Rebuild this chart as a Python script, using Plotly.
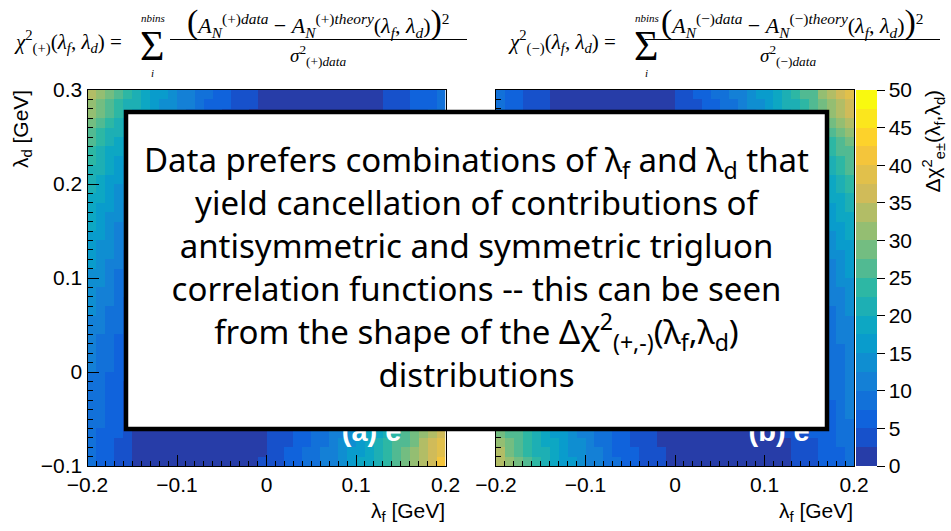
import plotly.graph_objects as go

# ---------------- data (Delta chi^2 per 0.01 x 0.01 bin; cells hidden behind the text box are not readable -> None)
lf_min, ld_min, bin_w, n_bins = -0.2, -0.1, 0.01, 40

# panel (a) e+ : rows from lambda_d = -0.1 upward, columns from lambda_f = -0.2
a_bottom = [
    [8.0, 6.2, 5.0, 4.1, 3.2, 2.4, 1.8, 1.3, 0.8, 0.5, 0.2, 0.1, 0.0, 0.1, 0.2, 0.5, 0.9, 1.4, 2.0, 2.7, 3.5, 4.5, 5.5, 6.7, 7.9, 9.3, 10.8, 12.4, 14.1, 15.9, 17.8, 19.9, 22.0, 24.2, 26.6, 29.0, 31.6, 34.3, 37.0, 40.5],
    [8.2, 6.4, 5.4, 4.4, 3.3, 2.4, 2.0, 1.4, 1.0, 0.6, 0.3, 0.1, 0.0, 0.0, 0.2, 0.4, 0.7, 1.2, 1.8, 2.4, 3.2, 4.1, 5.1, 6.2, 7.5, 8.8, 10.2, 11.8, 13.5, 15.2, 17.1, 19.1, 21.2, 23.5, 25.8, 28.2, 30.8, 33.4, 36.2, 39.1],
    [8.4, 6.8, 5.7, 4.7, 3.8, 2.45, 2.0, 1.6, 1.1, 0.7, 0.4, 0.1, 0.0, 0.0, 0.1, 0.3, 0.6, 1.0, 1.5, 2.2, 2.9, 3.8, 4.8, 5.8, 7.0, 8.3, 9.7, 11.2, 12.9, 14.6, 16.5, 18.4, 20.5, 22.7, 25.0, 27.4, 29.9, 32.5, 35.2, 38.0],
    [8.6, 7.2, 6.1, 5.0, 4.1, 2.45, 2.4, 1.8, 1.3, 0.8, 0.5, 0.2, 0.1, 0.0, 0.1, 0.2, 0.5, 0.9, 1.4, 2.0, 2.7, 3.5, 4.4, 5.5, 6.6, 7.9, 9.2, 10.7, 12.3, 14.0, 15.8, 17.7, 19.8, 21.9, 24.2, 26.5, 29.0, 31.6, 34.3, 37.1],
]
a_left_cols = [0, 1, 2, 3, 4]
a_left = [  # rows 4..36
    [8.8, 7.5, 6.4, 5.3, 4.3], [9.0, 7.7, 6.5, 5.4, 4.4], [9.2, 7.9, 6.7, 5.6, 4.6],
    [9.4, 8.1, 6.9, 5.7, 4.7], [9.6, 8.3, 7.0, 5.9, 4.9], [9.9, 8.5, 7.3, 6.1, 5.1],
    [10.2, 8.8, 7.5, 6.4, 5.3], [10.5, 9.1, 7.8, 6.6, 5.5], [10.9, 9.5, 8.1, 6.9, 5.8],
    [11.3, 9.8, 8.5, 7.2, 6.1], [11.7, 10.2, 8.8, 7.6, 6.4], [12.1, 10.6, 9.2, 7.9, 6.7],
    [12.6, 11.1, 9.6, 8.3, 7.0], [13.1, 11.5, 10.1, 8.7, 7.4], [13.6, 12.0, 10.5, 9.1, 7.8],
    [14.1, 12.5, 10.9, 9.5, 8.2], [14.6, 12.9, 11.4, 9.9, 8.6], [15.2, 13.5, 11.9, 10.4, 9.0],
    [15.8, 14.1, 12.5, 10.9, 9.5], [16.4, 14.6, 13.0, 11.4, 10.0], [17.0, 15.2, 13.5, 11.9, 10.4],
    [17.6, 15.8, 14.0, 12.4, 10.9], [18.2, 16.3, 14.6, 12.9, 11.4], [18.9, 17.0, 15.2, 13.5, 11.9],
    [19.6, 17.7, 15.8, 14.1, 12.5], [20.4, 18.4, 16.6, 14.8, 13.1], [21.2, 19.2, 17.3, 15.5, 13.8],
    [22.0, 20.0, 18.0, 16.2, 14.4], [23.0, 20.9, 18.9, 17.0, 15.2], [24.0, 21.9, 19.8, 17.9, 16.0],
    [25.2, 23.0, 20.9, 18.9, 17.0], [26.5, 24.2, 22.1, 20.0, 18.1], [28.0, 25.7, 23.5, 21.3, 19.3],
]
a_top = [  # rows 37..39
    [30.8, 28.3, 26.0, 23.8, 21.6, 19.6, 17.7, 15.8, 14.1, 12.5, 11.0, 9.5, 8.2, 7.0, 5.8, 4.8, 3.9, 3.0, 2.3, 1.7, 1.2, 0.7, 0.4, 0.2, 0.0, 0.0, 0.1, 0.2, 0.5, 0.8, 1.2, 1.7, 2.3, 3.0, 3.8, 4.7, 5.6, 6.7, 7.8, 9.1],
    [32.0, 29.2, 26.8, 24.5, 22.4, 20.3, 18.3, 16.5, 14.7, 13.0, 11.5, 10.0, 8.6, 7.4, 6.2, 5.2, 4.2, 3.3, 2.6, 1.9, 1.3, 0.9, 0.5, 0.2, 0.1, 0.0, 0.0, 0.2, 0.4, 0.7, 1.1, 1.5, 2.1, 2.8, 3.5, 4.4, 5.3, 6.3, 7.4, 8.6],
    [33.5, 30.0, 27.6, 25.3, 23.1, 21.0, 19.0, 17.1, 15.3, 13.6, 12.0, 10.5, 9.1, 7.8, 6.6, 5.5, 4.5, 3.6, 2.8, 2.1, 1.5, 1.0, 0.6, 0.3, 0.1, 0.0, 0.0, 0.1, 0.3, 0.6, 0.9, 1.4, 1.9, 2.6, 3.3, 4.1, 5.0, 6.0, 7.0, 8.2],
]

# panel (b) e-
b_bottom = [
    [34.0, 30.0, 27.6, 25.3, 23.1, 21.0, 19.0, 17.1, 15.3, 13.6, 12.0, 10.5, 9.1, 7.8, 6.6, 5.5, 4.5, 3.6, 2.8, 2.1, 1.5, 1.0, 0.6, 0.3, 0.1, 0.0, 0.0, 0.1, 0.3, 0.6, 0.9, 1.4, 1.9, 2.6, 3.3, 4.1, 5.0, 6.0, 7.0, 8.2],
    [32.5, 29.2, 26.8, 24.5, 22.4, 20.3, 18.3, 16.5, 14.7, 13.0, 11.5, 10.0, 8.6, 7.4, 6.2, 5.2, 4.2, 3.3, 2.6, 1.9, 1.3, 0.9, 0.5, 0.2, 0.1, 0.0, 0.0, 0.2, 0.4, 0.7, 1.1, 1.5, 2.1, 2.8, 3.5, 4.4, 5.3, 6.3, 7.4, 8.6],
    [30.8, 28.3, 26.0, 23.8, 21.6, 19.6, 17.7, 15.8, 14.1, 12.5, 11.0, 9.5, 8.2, 7.0, 5.8, 4.8, 3.9, 3.0, 2.3, 1.7, 1.2, 0.7, 0.4, 0.2, 0.0, 0.0, 0.1, 0.2, 0.5, 0.8, 1.2, 1.7, 2.3, 3.0, 3.8, 4.7, 5.6, 6.7, 7.8, 9.1],
    [29.9, 27.5, 25.2, 23.0, 20.9, 18.9, 17.0, 15.2, 13.5, 12.0, 10.5, 9.1, 7.8, 6.6, 5.5, 4.5, 3.6, 2.8, 2.1, 1.5, 1.0, 0.6, 0.3, 0.1, 0.0, 0.0, 0.1, 0.3, 0.6, 0.9, 1.4, 1.9, 2.6, 3.3, 4.1, 5.0, 6.0, 7.1, 8.3, 9.6],
]
b_right_cols = [37, 38, 39]
b_right = [  # rows 4..36
    [7.1, 8.4, 9.8], [7.3, 8.6, 10.0], [7.4, 8.8, 10.2], [7.6, 8.9, 10.4], [7.8, 9.1, 10.6],
    [7.9, 9.3, 10.8], [8.1, 9.5, 11.0], [8.3, 9.7, 11.2], [8.5, 9.9, 11.4], [8.7, 10.1, 11.7],
    [9.0, 10.4, 12.0], [9.3, 10.8, 12.4], [9.7, 11.2, 12.8], [10.0, 11.6, 13.2], [10.5, 12.1, 13.8],
    [11.1, 12.7, 14.4], [11.7, 13.3, 15.1], [12.3, 14.0, 15.8], [12.9, 14.7, 16.5], [13.5, 15.3, 17.2],
    [14.2, 16.1, 18.0], [15.0, 16.8, 18.8], [15.7, 17.6, 19.6], [16.6, 18.5, 20.6], [17.5, 19.5, 21.6],
    [18.5, 20.5, 22.7], [19.4, 21.6, 23.8], [20.5, 22.7, 25.0], [21.6, 23.9, 26.2], [22.8, 25.1, 27.5],
    [24.2, 26.5, 29.0], [26.0, 28.4, 31.0], [28.3, 30.8, 33.5],
]
b_top = [  # rows 37..39
    [8.4, 6.8, 5.7, 4.7, 3.8, 3.0, 2.2, 1.6, 1.1, 0.7, 0.4, 0.1, 0.0, 0.0, 0.1, 0.3, 0.6, 1.0, 1.5, 2.1, 2.8, 3.6, 4.5, 5.5, 6.6, 7.9, 9.2, 10.6, 12.2, 13.8, 15.6, 17.4, 19.4, 21.4, 23.6, 25.9, 28.2, 30.7, 33.3, 36.0],
    [8.2, 6.4, 5.4, 4.4, 3.5, 2.7, 2.0, 1.4, 0.9, 0.6, 0.3, 0.1, 0.0, 0.0, 0.1, 0.4, 0.7, 1.1, 1.7, 2.3, 3.0, 3.9, 4.8, 5.9, 7.1, 8.3, 9.7, 11.2, 12.7, 14.4, 16.2, 18.1, 20.1, 22.2, 24.4, 26.7, 29.1, 31.6, 34.2, 36.9],
    [8.0, 6.2, 5.0, 4.1, 3.2, 2.6, 1.8, 1.3, 0.8, 0.5, 0.2, 0.1, 0.0, 0.1, 0.2, 0.5, 0.8, 1.3, 1.9, 2.4, 3.3, 4.2, 5.2, 6.3, 7.5, 8.8, 10.2, 11.7, 13.3, 15.0, 16.8, 18.8, 20.8, 22.9, 25.2, 27.5, 30.0, 32.5, 35.2, 37.9],
]

z_min, z_max, n_contours = 0, 50, 20
cbar_ticks = [0, 5, 10, 15, 20, 25, 30, 35, 40, 45, 50]
panel_labels = ["<b>(a) e<sup>+</sup></b>", "<b>(b) e<sup>\u2212</sup></b>"]
label_pos = [(0.124, -0.066), (0.123, -0.066)]


def build(bottom, top, side, side_cols):
    z = [[None] * n_bins for _ in range(n_bins)]
    for r, row in enumerate(bottom):
        z[r] = list(row)
    for r, row in enumerate(top):
        z[n_bins - len(top) + r] = list(row)
    for r, row in enumerate(side):
        for c, v in zip(side_cols, row):
            z[len(bottom) + r][c] = v
    return z


z_a = build(a_bottom, a_top, a_left, a_left_cols)
z_b = build(b_bottom, b_top, b_right, b_right_cols)

# ---------------- ROOT kBird palette, 20 contour bands
st = [0.0, 0.125, 0.25, 0.375, 0.5, 0.625, 0.75, 0.875, 1.0]
R = [0.2082, 0.0592, 0.0780, 0.0232, 0.1802, 0.5301, 0.8186, 0.9956, 0.9764]
G = [0.1664, 0.3599, 0.5041, 0.6419, 0.7178, 0.7492, 0.7328, 0.7862, 0.9832]
B = [0.5293, 0.8684, 0.8385, 0.7914, 0.6425, 0.4662, 0.3499, 0.1968, 0.0539]


def bird(p):
    p = min(max(p, 0.0), 1.0)
    for k in range(len(st) - 1):
        if p <= st[k + 1]:
            t = (p - st[k]) / (st[k + 1] - st[k])
            c = [a + (b - a) * t for a, b in ((R[k], R[k + 1]), (G[k], G[k + 1]), (B[k], B[k + 1]))]
            return "rgb(%d,%d,%d)" % tuple(round(v * 255) for v in c)
    return "rgb(249,251,14)"


cscale = []
for k in range(n_contours):
    m = int((k + 0.99) * 255 / n_contours)
    col = bird(m / 255)
    cscale.append([k / n_contours, col])
    cscale.append([(k + 1) / n_contours, col])

# ---------------- layout helpers (pixel -> paper)
W, H = 951, 531


def px(x):
    return x / W


def py(y):
    return 1 - y / H


XA, XB, YD = (87.5, 445.5), (496, 854), (90, 466)
tickfont = dict(family="Liberation Sans, Arial, sans-serif", size=21, color="black")

fig = go.Figure()
for z, xa, ya in ((z_a, "x", "y"), (z_b, "x2", "y2")):
    fig.add_trace(go.Heatmap(z=z, x0=lf_min + bin_w / 2, dx=bin_w, y0=ld_min + bin_w / 2, dy=bin_w,
                             coloraxis="coloraxis", xaxis=xa, yaxis=ya, hoverongaps=False))
for (lx, ly), txt, xa, ya in zip(label_pos, panel_labels, ("x", "x2"), ("y", "y2")):
    fig.add_trace(go.Scatter(x=[lx], y=[ly], mode="text", text=[txt], textposition="middle center",
                             textfont=dict(family="Liberation Sans, Arial", size=29, color="white"),
                             xaxis=xa, yaxis=ya, showlegend=False, hoverinfo="skip"))

axis_common = dict(ticks="inside", ticklen=11, tickwidth=1, tickcolor="black", showline=True,
                   linecolor="black", linewidth=1, mirror=True, showgrid=False, zeroline=False,
                   tickfont=tickfont, automargin=False)
xcommon = dict(axis_common, range=[-0.2, 0.2], tickmode="linear", tick0=-0.2, dtick=0.1,
               minor=dict(tick0=-0.2, dtick=0.01, ticks="inside", ticklen=5, tickcolor="black", showgrid=False))
ycommon = dict(axis_common, range=[-0.1, 0.3], tickmode="linear", tick0=-0.1, dtick=0.1,
               minor=dict(tick0=-0.1, dtick=0.01, ticks="inside", ticklen=5, tickcolor="black", showgrid=False))

fig.update_layout(
    width=W, height=H, margin=dict(l=0, r=0, t=0, b=0, autoexpand=False),
    paper_bgcolor="white", plot_bgcolor="white", showlegend=False,
    xaxis=dict(xcommon, domain=[px(XA[0]), px(XA[1])], anchor="y"),
    yaxis=dict(ycommon, domain=[py(YD[1]), py(YD[0])], anchor="x"),
    xaxis2=dict(xcommon, domain=[px(XB[0]), px(XB[1])], anchor="y2"),
    yaxis2=dict(ycommon, domain=[py(YD[1]), py(YD[0])], anchor="x2", showticklabels=False),
    coloraxis=dict(cmin=z_min, cmax=z_max, colorscale=cscale,
                   colorbar=dict(x=px(856), xanchor="left", y=py(YD[0]), yanchor="top",
                                 len=(YD[1] - YD[0]) / H, lenmode="fraction", thickness=21,
                                 thicknessmode="pixels", xpad=0, ypad=0, outlinewidth=0,
                                 ticks="outside", ticklen=8, tickwidth=1, tickcolor="black",
                                 tickmode="array", tickvals=cbar_ticks, tickfont=tickfont)),
)

ann = []
# axis titles
ann.append(dict(x=px(22), y=py(88), text="\u03bb<sub>d</sub> [GeV]", textangle=-90, xanchor="center",
                yanchor="top", font=tickfont))
for xr in (XA[1], XB[1]):
    ann.append(dict(x=px(xr + 1), y=py(512), text="\u03bb<sub>f</sub> [GeV]", xanchor="right",
                    yanchor="middle", font=tickfont))
ann.append(dict(x=px(933), y=py(88), text="\u0394\u03c7<sup>2</sup><sub>e\u00b1</sub>(\u03bb<sub>f</sub>,\u03bb<sub>d</sub>)",
                textangle=-90, xanchor="center", yanchor="top", font=tickfont))

# formulas
serif = "Liberation Serif, Times New Roman, serif"
for off, sgn, cx_num, cx_den in ((0, "+", 318, 318), (494, "\u2212", 792, 788)):
    f = lambda s: dict(family=serif, size=s, color="black")
    ann.append(dict(x=px(12 + off), y=py(42), xanchor="left", yanchor="middle", font=f(21),
                    text="<i>\u03c7</i><sup>2</sup><sub>(%s)</sub>(<i>\u03bb<sub>f</sub></i>, <i>\u03bb<sub>d</sub></i>) =" % sgn))
    ann.append(dict(x=px(152 + off), y=py(46), xanchor="center", yanchor="middle", font=f(42), text="\u03a3"))
    ann.append(dict(x=px(153 + off), y=py(18), xanchor="center", yanchor="middle", font=f(11), text="<i>nbins</i>"))
    ann.append(dict(x=px(152 + off), y=py(73), xanchor="center", yanchor="middle", font=f(11), text="<i>i</i>"))
    ann.append(dict(x=px(cx_num), y=py(22), xanchor="center", yanchor="middle", font=f(22),
                    text=("<span style='font-size:34px'>(</span><i>A</i><sub><i>N</i></sub><sup>(%s)<i>data</i></sup>"
                          " \u2212 <i>A</i><sub><i>N</i></sub><sup>(%s)<i>theory</i></sup>(<i>\u03bb<sub>f</sub></i>, "
                          "<i>\u03bb<sub>d</sub></i>)<span style='font-size:34px'>)</span><sup>2</sup>") % (sgn, sgn)))
    ann.append(dict(x=px(cx_den), y=py(56), xanchor="center", yanchor="middle", font=f(19),
                    text="<i>\u03c3</i><sup>2</sup><sub>(%s)<i>data</i></sub>" % sgn))

# box text
box_lines = [
    "Data prefers combinations of \u03bb<sub>f</sub> and \u03bb<sub>d</sub> that",
    "yield cancellation of contributions of",
    "antisymmetric and symmetric trigluon",
    "correlation functions -- this can be seen",
    "from the shape of the \u0394\u03c7<sup>2</sup><sub>(+,-)</sub>(\u03bb<sub>f</sub>,\u03bb<sub>d</sub>)",
    "distributions",
]
BOX = (124, 110, 829, 431)
ann.append(dict(x=px((BOX[0] + BOX[2]) / 2), y=py(266.5), xanchor="center", yanchor="middle",
                text="<br>".join(box_lines), align="center",
                font=dict(family="Noto Sans, Open Sans, sans-serif", size=33, color="black")))

for a in ann:
    a.setdefault("xref", "paper")
    a.setdefault("yref", "paper")
    a.setdefault("showarrow", False)
fig.update_layout(annotations=ann)

shapes = [
    dict(type="line", xref="paper", yref="paper", x0=px(170), x1=px(467), y0=py(39.5), y1=py(39.5),
         line=dict(color="black", width=1)),
    dict(type="line", xref="paper", yref="paper", x0=px(645), x1=px(940), y0=py(39.5), y1=py(39.5),
         line=dict(color="black", width=1)),
    dict(type="rect", xref="paper", yref="paper", x0=px(BOX[0] + 2), x1=px(BOX[2] - 2), y0=py(BOX[3] - 2),
         y1=py(BOX[1] + 2), fillcolor="white", line=dict(color="black", width=4.5), layer="above"),
]
fig.update_layout(shapes=shapes)

fig.write_html("out.html", config={"displayModeBar": False},
               post_script="document.body.style.margin='0px';document.body.style.overflow='hidden';")
